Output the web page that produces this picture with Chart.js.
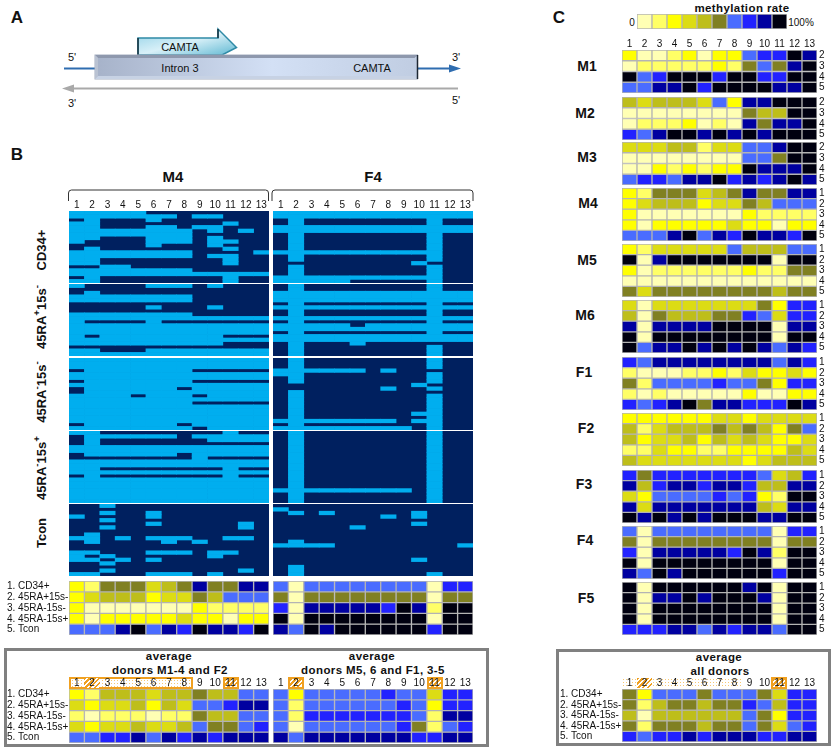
<!DOCTYPE html>
<html>
<head>
<meta charset="utf-8">
<title>Methylation rate</title>
<script src="https://cdn.jsdelivr.net/npm/chart.js@4"></script>
<style>
  html, body { margin: 0; background: #fff; }
  #page { position: relative; width: 835px; height: 750px; overflow: hidden; font-family: "Liberation Sans", Arial, sans-serif; color: #111; }
  #page canvas { position: absolute; }
  .txt { position: absolute; transform: translate(-50%, -50%); white-space: nowrap; }
  .txt sup { font-size: 0.75em; line-height: 0; }
  .panel { font: bold 17px "Liberation Sans", Arial, sans-serif; }
  .donor { font: bold 14px "Liberation Sans", Arial, sans-serif; }
  .donor-big { font: bold 15px "Liberation Sans", Arial, sans-serif; }
  .cell-title { font: bold 11.5px "Liberation Sans", Arial, sans-serif; letter-spacing: 0.4px; }
  .small { font: 10px "Liberation Sans", Arial, sans-serif; }
  .schema { font: 11px "Liberation Sans", Arial, sans-serif; }
  .side { font: bold 13px "Liberation Sans", Arial, sans-serif; transform: translate(-50%, -50%) rotate(-90deg); }
  .box { position: absolute; border: 3px solid #808080; box-sizing: border-box; }
  .dots { position: absolute; box-sizing: border-box; background: #fff radial-gradient(#f6c874 35%, transparent 40%) 0 0 / 3px 3px; }
  .hatch { position: absolute; box-sizing: border-box; background: repeating-linear-gradient(135deg, #f0a020 0 1.5px, #fff 1.5px 3.5px); }
  .framed { border: 2px solid #f0a020; }
  svg { position: absolute; left: 0; top: 0; }
</style>
</head>
<body>
<div id="page">
  <svg width="835" height="750">
    <defs>
      <linearGradient id="intronFace" x1="0" x2="1" y1="0" y2="0">
        <stop offset="0" stop-color="#a6b2c9"/><stop offset="0.55" stop-color="#d3e0f5"/><stop offset="1" stop-color="#c0cde2"/>
      </linearGradient>
      <linearGradient id="camtaFace" x1="0" x2="1" y1="0" y2="1">
        <stop offset="0" stop-color="#8fd0e6"/><stop offset="0.5" stop-color="#d8f0f8"/><stop offset="1" stop-color="#5fb8d2"/>
      </linearGradient>
    </defs>
    <!-- schema do painel A -->
    <path d="M138 38H218V29L236.5 47.5L222 55H138Z" fill="url(#camtaFace)" stroke="#2f8aa6" stroke-width="1.5"/>
    <path d="M138 38V55M218 38V29" stroke="#16313d" stroke-width="1.5" fill="none"/>
    <line x1="64" y1="68.5" x2="95" y2="68.5" stroke="#2f6db0" stroke-width="2"/>
    <line x1="417" y1="68.5" x2="450" y2="68.5" stroke="#2f6db0" stroke-width="2"/>
    <path d="M449 64.5L461 68.5L449 72.5Z" fill="#2f6db0"/>
    <rect x="95" y="55" width="322.5" height="24" fill="url(#intronFace)" stroke="#a3adbf"/>
    <path d="M95 55L98 58H414.5L417.5 55Z" fill="#8e98ad"/>
    <path d="M95 55L98 58V76L95 79Z" fill="#b9c2d2"/>
    <path d="M95 79L98 76H414.5L417.5 79Z" fill="#c7d2e4"/>
    <path d="M417.5 55V79" stroke="#1d2733" stroke-width="1.5"/>
    <line x1="72" y1="88.5" x2="458" y2="88.5" stroke="#a9a9a9" stroke-width="2"/>
    <path d="M74 84.5L62 88.5L74 92.5Z" fill="#a9a9a9"/>
    <!-- chaves do painel B -->
    <path d="M68.5 201V193Q68.5 190 71.5 190H265.5Q268.5 190 268.5 193V201" fill="none" stroke="#333" stroke-width="1"/>
    <path d="M272 201V193Q272 190 275 190H470Q473 190 473 193V201" fill="none" stroke="#333" stroke-width="1"/>
  </svg>
</div>

<script>
  // === Dados: classe de metilação (0 a 9) por amostra e região ===
  const columns = ['1', '2', '3', '4', '5', '6', '7', '8', '9', '10', '11', '12', '13'];
  const rateClasses = ['0123456789'];
  const rateColors = ['#ffffb4', '#ffff66', '#ffff00', '#dcdc14', '#bebe1a', '#808022', '#4a6cff', '#2222ff', '#0000a0', '#000010'];
  const fractionNames = ['1. CD34+', '2. 45RA+15s-', '3. 45RA-15s-', '4. 45RA-15s+', '5. Tcon'];
  const rowsTwoToFive = ['2', '3', '4', '5'];
  const rowsOneToFive = ['1', '2', '3', '4', '5'];

  const M1 = ['2001202267798', '0111112156589', '9679997997799', '6688979999889'];
  const M2 = ['4344436288999', '0000000054499', '0111201085889', '7689989898999'];
  const M3 = ['3334413366899', '0000000066599', '0021212298889', '6776889787898'];
  const M4 = ['2155534585588', '2344423354666', '2000000021111', '2022222322022', '6668968798879'];
  const M5 = ['2133333644466', '9089999999099', '2011111121155', '0000000000000', '5355555555455'];
  const M6 = ['3033333335277', '4054445576377', '8088889999088', '9099999999099', '9688989898687'];
  const F1 = ['7688888888687', '1000112132232', '5166667665277', '1010000020022', '7678958877798'];
  const F2 = ['2222223323333', '4134445454256', '4233424343223', '1132211222243', '4333333323444'];
  const F3 = ['7577777776347', '8478878874488', '3266667672199', '8388888884388', '9898989998899'];
  const F4 = ['6066666666077', '5055555555055', '7088888798199', '9099999999099', '8698999999799'];
  const F5 = ['9099999989099', '9088989998099', '9099999999099', '9099999999099', '7778868788699'];
  const avgAll = ['5266656665377', '5145545576477', '4044444465277', '5155545565367', '7677878887788'];
  const avgGroupA = ['2144434454466', '3233424366788', '1011101154466', '3233433465567', '6677868787888'];
  const avgGroupB = ['6266666766377', '6166666676277', '6177777776188', '6066666675167', '8688888887788'];

  // Mapas binários (1 = claro, 0 = escuro), 20 clones por 13 regiões
  const m4Cd34 = ['1111100000000', '1111111011000', '0100010000000', '1100000000100', '1100011011000', '1111111101010', '1111111100000', '1100011101000', '1000011101100', '0000010001000', '0100000000100', '1111111100001', '1111111101100', '1100000000100', '1100000000100', '0011000000000', '1111111100000', '1111111111111', '0100000000100', '1100000000100'];
  const m4Ra15n = ['1000011101000', '0000000000000', '0100000000000', '1111111100000', '1111111100000', '0000000000000', '0000010001000', '0000000000000', '1111111100000', '1111111111111', '1000010000000', '1111111111111', '1111111111111', '1111111111111', '1011111111000', '1111111111111', '1111111111000', '0000000000000', '1100011111111', '1111111111111'];
  const m4Neg15n = ['1111111111111', '1111111111111', '1111111111111', '0111111100000', '1111111111111', '1111111111111', '0111111100000', '1111111111111', '0111111011111', '0111111111111', '1111011101111', '1111111111111', '1111111100000', '1111111111111', '1111111111111', '1111111111111', '1111111111111', '1111111111111', '0111111011111', '1111111101111'];
  const m4Neg15p = ['1100000000100', '0111111011111', '0100000001111', '0100000000000', '1111111111111', '1111111111111', '0111111011111', '0000000010000', '1111111111111', '1111111111111', '1100000000100', '1111111111111', '0100000000100', '1111111111111', '1111111111111', '1111111111111', '1111111111111', '1111111111111', '1111111111111', '1111111111111'];
  const m4Tcon = ['0010000000000', '0000000000000', '0010010000000', '1000010000000', '0010000000000', '0000010000010', '0010000000010', '0000000000000', '0100000000000', '1101011100110', '0100001010000', '0000000000000', '0000000000000', '1100011101100', '1010000001000', '1101010000000', '0010000000000', '0000000000000', '0010000000010', '1100011101000'];
  const f4Cd34 = ['1111111111111', '1111111111111', '0100000000100', '0100000000100', '1111111111111', '1111111111111', '0100000000100', '0100000000100', '0100000000100', '0100000000100', '0100000000100', '1111111111100', '0100000000100', '0100000000100', '0000000001000', '0100000000100', '0100000000100', '0100000000100', '1111111111100', '1111100000100'];
  const f4Ra15n = ['0100000000100', '0100000000100', '1111111111111', '1111111111111', '1111111111111', '0100000000100', '1111111111111', '0100000000100', '0100000000100', '1111111111111', '0100000000100', '1111101111111', '1111111111111', '0100000000100', '1111111111111', '1111111111111', '0100010000000', '0100000000100', '0100000000100', '0100000000100'];
  const f4Neg15n = ['0100000000100', '0100000000100', '0100000000100', '1111110100000', '1100000000100', '0100000000100', '0100000000100', '0000000001000', '0000000100100', '0100000000000', '0100000000100', '0100000000100', '0100000000100', '0100000000100', '0100000000100', '0100000001100', '0100000000100', '1111111101100', '0100000000100', '1111111110100'];
  const f4Neg15p = ['0100000000100', '0100000000100', '0100000000100', '0100000000100', '0100000000100', '0100000000100', '0100000000100', '0100000000100', '0100000000100', '0100000000100', '0100000000100', '0100000000100', '0100000000100', '0100000000100', '0100000000100', '0100000000100', '1111111110100', '0100000000100', '0100000000100', '0100000000100'];
  const f4Tcon = ['0000000000000', '1000000000000', '0101000001000', '0000000101000', '0000000000000', '0000000001000', '0000010000000', '0000000000000', '0000000000000', '0000000000000', '0100000000000', '1111000000001', '0000000000000', '0000000000000', '0000000000000', '0000000001000', '0000000000000', '0100000000000', '0100000000000', '0100000000100'];

  const page = document.getElementById('page');
  const cellFont = { family: '"Liberation Sans", Arial, sans-serif', size: 10 };

  // === Texto solto na página ===
  function label(html, x, y, cls) {
    const el = document.createElement('div');
    el.className = 'txt ' + cls;
    el.style.left = x + 'px';
    el.style.top = y + 'px';
    el.innerHTML = html;
    page.appendChild(el);
  }

  function block(cls, x, y, w, h) {
    const el = document.createElement('div');
    el.className = cls;
    el.style.cssText = `left:${x}px;top:${y}px;width:${w}px;height:${h}px`;
    page.appendChild(el);
  }

  // === Fundo do mapa binário ===
  const areaFill = {
    id: 'areaFill',
    beforeDatasetsDraw(chart, args, opts) {
      if (!opts.color) return;
      const a = chart.chartArea;
      chart.ctx.fillStyle = opts.color;
      chart.ctx.fillRect(a.left, a.top, a.right - a.left, a.bottom - a.top);
    }
  };

  // === Gráfico de células: cada linha é um conjunto de barras flutuantes ===
  function cellChart(pos, datasets, rowCount, o = {}) {
    const topH = o.showColumns ? o.topH || 14 : 0;
    const leftW = o.rowNames && o.side !== 'right' ? o.sideW : 0;
    const rightW = o.rowNames && o.side === 'right' ? o.sideW : 0;
    const canvas = document.createElement('canvas');
    canvas.width = leftW + pos.w + rightW;
    canvas.height = topH + pos.h;
    canvas.style.left = pos.x - leftW + 'px';
    canvas.style.top = pos.y - topH + 'px';
    page.appendChild(canvas);

    return new Chart(canvas, {
      type: 'bar',
      data: { labels: o.labels || columns, datasets },
      options: {
        responsive: false,
        animation: false,
        layout: { padding: 0, autoPadding: false },
        events: [],
        plugins: { legend: { display: false }, tooltip: { enabled: false }, areaFill: { color: o.fill } },
        scales: {
          x: {
            type: 'category',
            position: 'top',
            display: !!o.showColumns,
            offset: true,
            grid: { display: false, drawTicks: false },
            border: { display: false },
            ticks: { color: '#111', font: cellFont, padding: 0, autoSkip: false, maxRotation: 0 },
            afterFit: s => { s.height = topH; s.paddingLeft = 0; s.paddingRight = 0; }
          },
          y: {
            type: 'linear',
            position: o.side === 'right' ? 'right' : 'left',
            display: !!o.rowNames,
            reverse: true,
            min: 0,
            max: rowCount,
            grid: { display: false, drawTicks: false },
            border: { display: false },
            afterBuildTicks: s => { s.ticks = (o.rowNames || []).map((_, i) => ({ value: i + 0.5 })); },
            afterFit: s => { s.width = leftW + rightW; s.paddingTop = 0; s.paddingBottom = 0; },
            ticks: {
              color: '#111',
              font: cellFont,
              padding: 2,
              autoSkip: false,
              crossAlign: o.side === 'right' ? 'near' : 'far',
              callback: (v, i) => o.rowNames[i]
            }
          }
        }
      },
      plugins: [areaFill]
    });
  }

  // === Linhas com classes de metilação ===
  function rateChart(pos, rows, o) {
    const datasets = rows.map((row, r) => {
      const codes = row.split('').map(Number);
      return {
        data: codes.map(() => [r, r + 1]),
        backgroundColor: codes.map(c => rateColors[c]),
        borderColor: '#b4b4b4',
        borderWidth: 1,
        borderSkipped: false,
        grouped: false,
        barPercentage: 1,
        categoryPercentage: 1
      };
    });
    return cellChart(pos, datasets, rows.length, o);
  }

  // === Mapa binário de clones ===
  function cloneChart(pos, rows, o) {
    const datasets = rows.map((row, r) => ({
      data: row.split('').map(c => (c === '1' ? [r, r + 1] : null)),
      backgroundColor: '#00aeef',
      borderWidth: 0,
      grouped: false,
      barPercentage: 1,
      categoryPercentage: 1
    }));
    return cellChart(pos, datasets, rows.length, { fill: '#00205f', ...o });
  }

  // === Painel A: rótulos do esquema ===
  label('A', 17, 18, 'panel');
  label('5\'', 72, 57, 'schema');
  label('3\'', 456, 57, 'schema');
  label('3\'', 72, 103, 'schema');
  label('5\'', 456, 100, 'schema');
  label('CAMTA', 180, 46.5, 'schema');
  label('Intron 3', 180, 68, 'schema');
  label('CAMTA', 372, 68, 'schema');

  // === Painel B: mapas de clones ===
  label('B', 17, 155, 'panel');
  label('M4', 173, 176, 'donor-big');
  label('F4', 373, 176, 'donor-big');

  const sideTitles = ['CD34+', '45RA<sup>+</sup>15s<sup>-</sup>', '45RA<sup>-</sup>15s<sup>-</sup>', '45RA<sup>-</sup>15s<sup>+</sup>', 'Tcon'];
  const sideCentres = [250, 317, 392, 468, 533];
  sideTitles.forEach((t, i) => label(t, 41, sideCentres[i], 'side'));

  const cloneTops = [211, 284, 358, 431, 504];
  [m4Cd34, m4Ra15n, m4Neg15n, m4Neg15p, m4Tcon].forEach((rows, i) => {
    cloneChart({ x: 69, y: cloneTops[i], w: 200, h: 72 }, rows, { showColumns: i === 0 });
  });
  [f4Cd34, f4Ra15n, f4Neg15n, f4Neg15p, f4Tcon].forEach((rows, i) => {
    cloneChart({ x: 273, y: cloneTops[i], w: 200, h: 72 }, rows, { showColumns: i === 0 });
  });

  rateChart({ x: 69, y: 581, w: 200, h: 54 }, M4, { rowNames: fractionNames, sideW: 62 });
  rateChart({ x: 273, y: 581, w: 200, h: 54 }, F4, {});

  // === Médias por grupo de doadores ===
  block('box', 4, 648, 485, 99);
  label('average', 169, 656, 'cell-title');
  label('donors M1-4 and F2', 170, 670, 'cell-title');
  label('average', 372, 656, 'cell-title');
  label('donors M5, 6 and F1, 3-5', 373, 670, 'cell-title');
  block('dots framed', 69, 677, 124, 12);
  block('hatch', 84, 678, 16, 10);
  block('hatch framed', 223, 677, 16, 12);
  block('hatch framed', 288, 677, 16, 12);
  block('hatch framed', 427, 677, 16, 12);
  rateChart({ x: 69, y: 689, w: 200, h: 54 }, avgGroupA, { rowNames: fractionNames, sideW: 62, showColumns: true, topH: 12 });
  rateChart({ x: 273, y: 689, w: 200, h: 54 }, avgGroupB, { showColumns: true, topH: 12 });

  // === Painel C: escala de cores ===
  label('C', 559, 18, 'panel');
  label('methylation rate', 742, 7.5, 'cell-title');
  label('0', 632, 22, 'small');
  label('100%', 801, 22, 'small');
  rateChart({ x: 637, y: 14, w: 150, h: 15 }, rateClasses, { labels: rateClasses[0].split('') });

  // === Painel C: doadores ===
  const donorNames = ['M1', 'M2', 'M3', 'M4', 'M5', 'M6', 'F1', 'F2', 'F3', 'F4', 'F5'];
  const donorRows = [M1, M2, M3, M4, M5, M6, F1, F2, F3, F4, F5];
  const donorTops = [50, 97, 142, 188, 244, 300, 357, 413, 470, 526, 582];
  const donorNameX = [587, 585, 587, 588, 587, 585, 584, 586, 584, 585, 586];
  const donorNameY = [66, 113, 157, 203, 260, 315, 372, 428, 484, 540, 598];
  donorNames.forEach((name, i) => {
    label(name, donorNameX[i], donorNameY[i], 'donor');
    const rows = donorRows[i];
    rateChart({ x: 622, y: donorTops[i], w: 195, h: rows.length === 4 ? 43 : 53 }, rows, {
      rowNames: rows.length === 4 ? rowsTwoToFive : rowsOneToFive,
      side: 'right',
      sideW: 14,
      showColumns: i === 0
    });
  });

  // === Painel C: média de todos os doadores ===
  block('box', 556, 649, 275, 97);
  label('average', 719, 657, 'cell-title');
  label('all donors', 720, 671, 'cell-title');
  block('dots', 622, 678, 120, 10);
  block('hatch', 637, 678, 15, 10);
  block('hatch framed', 771, 677, 16, 12);
  rateChart({ x: 622, y: 689, w: 195, h: 53 }, avgAll, { rowNames: fractionNames, sideW: 62, showColumns: true, topH: 12 });
</script>
</body>
</html>
